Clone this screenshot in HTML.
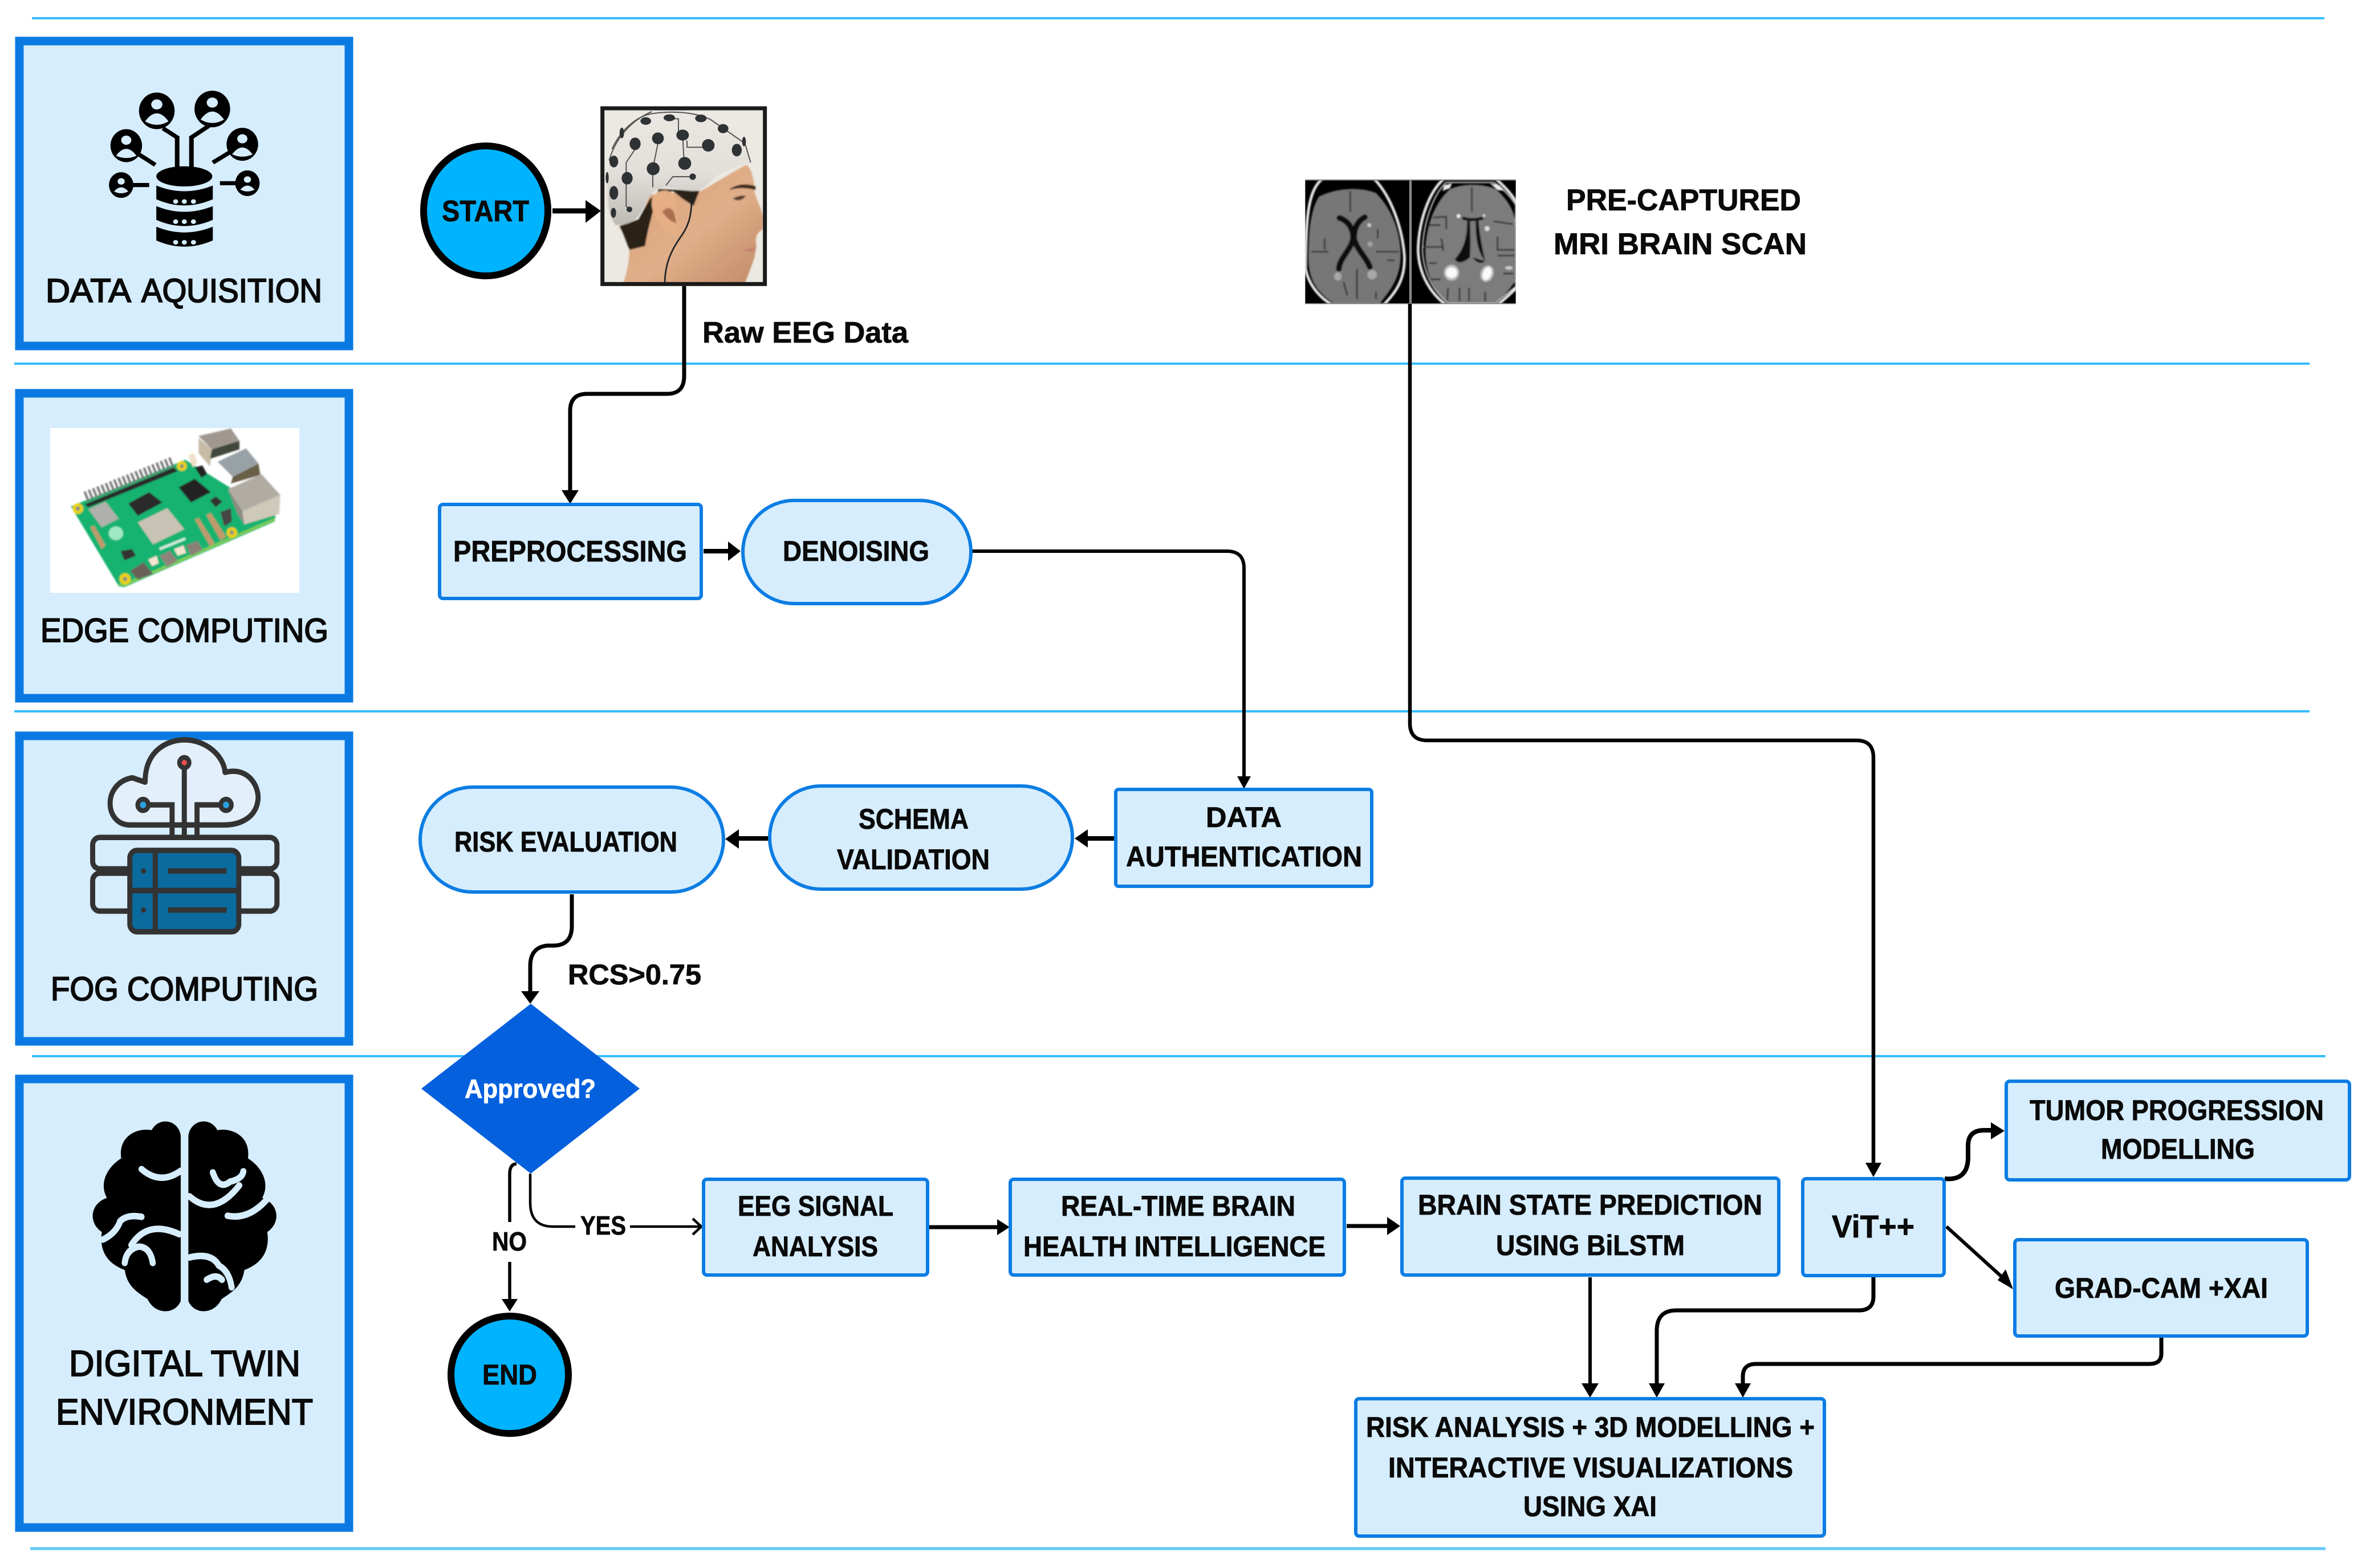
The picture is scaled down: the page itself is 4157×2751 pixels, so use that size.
<!DOCTYPE html>
<html><head><meta charset="utf-8"><style>
html,body{margin:0;padding:0;background:#fff;width:4157px;height:2751px;overflow:hidden}
svg{display:block}
text{font-family:"Liberation Sans",sans-serif;font-weight:700;fill:#0a0a0a;stroke:#0a0a0a;stroke-width:.8}
.lab{font-weight:400;stroke:#0a0a0a;stroke-width:2}
.box{fill:#d6edfd;stroke:#0c7de3;stroke-width:6}
.sec{fill:#d6edfd;stroke:#0a7ae2;stroke-width:15}
.ln{stroke:#35bdfb;stroke-width:4;fill:none}
.c{fill:none;stroke:#000;stroke-linejoin:round}
</style></head><body>
<svg xmlns="http://www.w3.org/2000/svg" width="4157" height="2751" viewBox="0 0 4157 2751">
<defs>
<filter id="bl" x="-5%" y="-5%" width="110%" height="110%"><feGaussianBlur stdDeviation="4"/></filter>
<linearGradient id="cap" x1="0" y1="0" x2="0" y2="1"><stop offset="0" stop-color="#ebe8e3"/><stop offset=".55" stop-color="#e2dfda"/><stop offset="1" stop-color="#bdb9b3"/></linearGradient>
<linearGradient id="skin" x1="0" y1="0" x2="1" y2="1"><stop offset="0" stop-color="#d9a27a"/><stop offset=".55" stop-color="#e0ae88"/><stop offset="1" stop-color="#c08a66"/></linearGradient>
<clipPath id="mc"><rect x="28" y="30" width="1108" height="654"/></clipPath>
<clipPath id="hc"><rect x="60" y="55" width="835" height="905"/></clipPath>
</defs>
<rect width="4157" height="2751" fill="#fff"/>
<!-- lane lines -->
<path class="ln" d="M56 32H4077M25 638H4051M25 1248H4051M56 1853H4079"/>
<path class="ln" d="M53 2717H4079" style="stroke:#62c8fb;stroke-width:5"/>
<!-- section boxes -->
<rect class="sec" x="34" y="72" width="578" height="535"/>
<rect class="sec" x="34" y="690" width="578" height="535"/>
<rect class="sec" x="34" y="1291" width="578" height="536"/>
<rect class="sec" x="34" y="1893" width="578" height="787"/>
<g font-size="58">
<text class="lab" x="80" y="530" textLength="150" lengthAdjust="spacingAndGlyphs">DATA</text>
<text class="lab" x="248" y="530" textLength="317" lengthAdjust="spacingAndGlyphs">AQUISITION</text>
<text class="lab" x="71" y="1126" textLength="505" lengthAdjust="spacingAndGlyphs">EDGE COMPUTING</text>
<text class="lab" x="89" y="1755" textLength="469" lengthAdjust="spacingAndGlyphs">FOG COMPUTING</text>
</g>
<g font-size="64">
<text class="lab" x="121" y="2414" textLength="406" lengthAdjust="spacingAndGlyphs">DIGITAL TWIN</text>
<text class="lab" x="98" y="2499" textLength="451" lengthAdjust="spacingAndGlyphs">ENVIRONMENT</text>
</g>
<!-- data icon -->
<g transform="scale(.893,.8036)">
<g fill="none" stroke="#000" stroke-width="9">
<path d="M320 280L348 300V365M376 365V300L410 275M270 335L305 360M418 355L455 330M258 404H293M432 400H465"/>
</g>
<g fill="#000">
<ellipse cx="308" cy="242" rx="35" ry="40"/><ellipse cx="417" cy="238" rx="35" ry="40"/>
<ellipse cx="248" cy="318" rx="31" ry="36"/><ellipse cx="476" cy="315" rx="31" ry="36"/>
<ellipse cx="238" cy="404" rx="24" ry="28"/><ellipse cx="486" cy="400" rx="24" ry="28"/>
<ellipse cx="362" cy="385" rx="55" ry="22"/>
<path d="M307 405Q362 430 418 405V435Q362 462 307 435ZM307 450Q362 475 418 450V480Q362 507 307 480ZM307 495Q362 520 418 495V525Q362 552 307 525Z"/>
</g>
<g fill="#d6edfd">
<circle cx="308" cy="228" r="11"/><path d="M285 265Q308 230 331 265Q308 280 285 265Z"/>
<circle cx="417" cy="224" r="11"/><path d="M394 261Q417 226 440 261Q417 276 394 261Z"/>
<circle cx="248" cy="306" r="10"/><path d="M228 340Q248 310 268 340Q248 350 228 340Z"/>
<circle cx="476" cy="303" r="10"/><path d="M456 337Q476 307 496 337Q476 347 456 337Z"/>
<circle cx="238" cy="396" r="7"/><path d="M224 418Q238 400 252 418Q238 426 224 418Z"/>
<circle cx="486" cy="392" r="7"/><path d="M472 414Q486 396 500 414Q486 422 472 414Z"/>
<circle cx="345" cy="440" r="5"/><circle cx="362" cy="440" r="5"/><circle cx="380" cy="440" r="5"/>
<circle cx="345" cy="484" r="5"/><circle cx="362" cy="484" r="5"/><circle cx="380" cy="484" r="5"/>
<circle cx="345" cy="529" r="5"/><circle cx="362" cy="529" r="5"/><circle cx="380" cy="529" r="5"/>
</g>
</g>
<!-- raspberry pi -->
<rect x="88" y="751" width="437" height="289" fill="#fff"/>
<g transform="translate(85,745) scale(.33333)"><g filter="url(#bl)">
<path d="M118 430L720 185L1195 480L1190 510L400 855L370 850Z" fill="#15b26f"/>
<path d="M360 840L400 850L1190 505L1192 490L400 835Z" fill="#7fcf55"/>
<path d="M195 380L655 195" stroke="#777" stroke-width="55" stroke-dasharray="12 12" fill="none"/>
<path d="M190 420L660 225L680 245L210 435Z" fill="#2a2a2a"/>
<path d="M420 415L530 355L600 410L470 480Z" fill="#2b2b2b"/>
<path d="M685 330L770 285L855 355L750 410Z" fill="#232323"/>
<path d="M850 400L880 378L915 405L880 435Z" fill="#333"/>
<path d="M210 445L300 405L370 495L280 540Z" fill="#b0b0ac"/>
<path d="M470 515L625 440L715 550L550 630Z" fill="#c8c3b4"/>
<path d="M790 60L960 20L1005 85L860 130Z" fill="#a09890"/>
<path d="M790 70L860 130L850 220L790 150Z" fill="#c7bba6"/>
<path d="M860 130L1005 85L1005 130L850 180Z" fill="#41463a"/>
<path d="M890 195L1040 125L1105 205L970 275Z" fill="#98a2a6"/>
<path d="M970 275L1105 205L1115 265L960 310Z" fill="#6a5e46"/>
<path d="M945 340L1120 260L1220 370L1020 455Z" fill="#b0aca4"/>
<path d="M945 340L1020 455L1030 525L995 470Z" fill="#8f8b82"/>
<path d="M1020 455L1220 370L1215 470L1030 525Z" fill="#cfc9ba"/>
<path d="M770 500L790 490L875 625L850 640ZM830 475L855 465L935 590L905 610ZM220 540L240 530L300 635L280 655Z" fill="#c09a6c"/>
<path d="M905 460L960 440L965 510L925 535Z" fill="#444"/>
<path d="M735 160L765 150L785 200L760 225Z" fill="#f0e0c8"/>
<path d="M770 225L810 215L835 260L805 280Z" fill="#222"/>
<g fill="#e8d018"><circle cx="155" cy="442" r="28"/><circle cx="702" cy="218" r="26"/><circle cx="965" cy="568" r="28"/><circle cx="403" cy="812" r="30"/></g>
<g fill="#8a8a80"><circle cx="155" cy="442" r="11"/><circle cx="702" cy="218" r="10"/><circle cx="965" cy="568" r="11"/><circle cx="403" cy="812" r="11"/></g>
<path d="M430 770L500 725L550 785L470 815Z" fill="#6a6258"/>
<path d="M585 690L640 665L680 715L625 750Z" fill="#8c847a"/>
<path d="M725 635L785 612L810 660L750 690Z" fill="#8a8078"/>
<path d="M525 710L570 690L580 730L545 745ZM660 655L710 635L725 675L680 690Z" fill="#f4e4d0"/>
<path d="M380 665L440 655L460 690L400 715Z" fill="#333"/>
<ellipse cx="355" cy="572" rx="38" ry="36" fill="#9fe8c4"/>
<path d="M585 655L720 600" stroke="#cfeee0" stroke-width="14" fill="none"/>
</g></g>
<!-- fog icon -->
<g transform="translate(0,1260) scale(.893,.951)">
<path d="M285 197H255C205 197 200 120 260 110L285 118C285 55 335 40 362 40C405 40 440 70 442 100C490 88 512 130 506 155C500 185 470 197 440 197H390Z" fill="#e3f0fb" stroke="#333" stroke-width="10" stroke-linejoin="round"/>
<g fill="none" stroke="#333" stroke-width="10">
<rect x="182" y="220" width="362" height="58" rx="14"/><rect x="182" y="286" width="362" height="70" rx="14"/>
<path d="M362 95V218M295 160H338V218M430 160H387V218"/>
</g>
<rect x="255" y="244" width="214" height="150" rx="14" fill="#0b6a9e" stroke="#333" stroke-width="10"/>
<path d="M255 318H469M305 244V394M330 282H445M330 354H445" stroke="#333" stroke-width="10" fill="none"/>
<circle cx="282" cy="282" r="5" fill="#333"/><circle cx="282" cy="354" r="5" fill="#333"/>
<circle cx="362" cy="82" r="14" fill="#333"/><circle cx="362" cy="82" r="5" fill="#f05050"/>
<circle cx="281" cy="160" r="15" fill="#333"/><circle cx="281" cy="160" r="6" fill="#2aa0e0"/>
<circle cx="444" cy="160" r="15" fill="#333"/><circle cx="444" cy="160" r="6" fill="#2aa0e0"/>
</g>
<!-- brain icon -->
<g transform="translate(0,1260) scale(.893,.951)">
<path d="M355 770C350 740 312 735 298 760C268 755 232 772 238 812C208 830 195 860 210 885C178 895 172 930 200 948C195 980 208 1005 245 1018C250 1050 272 1060 290 1072C305 1102 345 1100 355 1075Z" fill="#000"/>
<path d="M370 770C375 740 413 735 427 760C457 755 493 772 487 812C517 830 530 860 515 885C547 895 553 930 525 948C530 980 517 1005 480 1018C475 1050 453 1060 435 1072C420 1102 380 1100 370 1075Z" fill="#000"/>
<g fill="none" stroke="#d6edfd" stroke-width="12" stroke-linecap="round">
<path d="M278 832Q315 862 355 835M202 962Q228 950 236 928Q250 915 278 920M245 1005Q248 980 272 975Q295 975 300 1005M258 972Q290 925 352 952"/>
<path d="M372 882Q420 922 470 862M418 838Q430 872 452 855Q476 850 478 836M447 918Q490 926 527 885M372 995Q415 985 430 1010Q450 1020 455 1050M406 1036Q425 1024 436 1036"/>
</g>
</g>
<!-- EEG head -->
<g transform="translate(1040,175) scale(.33333)">
<rect x="40" y="35" width="875" height="945" fill="#ece8e2"/>
<g clip-path="url(#hc)"><g filter="url(#bl)">
<path d="M160 965C190 880 195 800 190 770L300 500L570 480L800 345C830 340 850 420 850 480C850 510 900 590 898 640L895 680C870 700 850 710 860 770L850 830L825 900L800 965Z" fill="url(#skin)"/>
<path d="M140 665C170 720 180 770 195 790L275 770C285 700 300 650 320 570L345 470L560 480L530 560L470 520L420 480L300 520L240 630Z" fill="#2c2018"/>
<path d="M120 660C70 600 65 450 90 320C120 180 220 90 310 60C400 45 520 50 600 85C720 130 800 210 830 335C780 340 700 370 640 410C600 450 570 480 530 480C470 480 420 460 370 460C320 470 290 510 270 560C240 630 200 660 120 660Z" fill="url(#cap)"/>
<path d="M310 530C320 470 410 460 430 510C450 570 440 640 450 700C430 730 380 700 350 650C320 610 305 570 310 530Z" fill="#e6ae84"/>
<path d="M365 590Q400 550 425 590L440 650Q400 640 365 590Z" fill="#a87050"/>
<path d="M720 470Q780 430 855 455L855 475Q780 455 720 475Z" fill="#3a2a1e"/>
<path d="M735 520Q770 500 805 505Q775 545 735 520Z" fill="#5a4030"/>
<path d="M785 790Q820 780 860 775L850 800Q820 805 785 790Z" fill="#c48470"/>
</g>
<g fill="none" stroke="#555" stroke-width="6">
<path d="M402 100H450V186M472 186L480 335M495 215V250H580M342 230L315 363V460M222 260L175 330V560L192 577M525 405H420L385 450"/>
<path d="M100 260C150 150 240 80 320 72C400 60 530 60 620 105L700 160M85 320C120 200 200 110 310 62M620 105L800 230L830 330"/>
</g>
<g fill="#2e3234">
<ellipse cx="278" cy="112" rx="28" ry="20"/><ellipse cx="402" cy="95" rx="30" ry="18"/><ellipse cx="568" cy="98" rx="30" ry="20"/><ellipse cx="685" cy="152" rx="28" ry="24"/>
<ellipse cx="152" cy="175" rx="12" ry="28"/><ellipse cx="222" cy="232" rx="29" ry="33"/><circle cx="342" cy="203" r="31"/><ellipse cx="472" cy="186" rx="33" ry="29"/><circle cx="607" cy="240" r="33"/><ellipse cx="757" cy="265" rx="26" ry="33"/>
<ellipse cx="110" cy="325" rx="23" ry="31"/><circle cx="317" cy="363" r="34"/><circle cx="483" cy="335" r="34"/><ellipse cx="180" cy="413" rx="29" ry="33"/><ellipse cx="110" cy="490" rx="23" ry="36"/><circle cx="525" cy="405" r="17"/><circle cx="192" cy="577" r="15"/><ellipse cx="108" cy="595" rx="14" ry="26"/><ellipse cx="75" cy="410" rx="8" ry="30"/><ellipse cx="795" cy="220" rx="10" ry="25"/>
</g>
<path d="M520 490C520 600 510 650 470 710C420 780 380 850 378 965" fill="none" stroke="#1c2226" stroke-width="8"/>
</g>
<rect x="50" y="45" width="855" height="925" fill="none" stroke="#1a1a1a" stroke-width="21"/>
</g>
<!-- MRI -->
<g transform="translate(2280,305) scale(.33333)">
<rect x="28" y="30" width="1108" height="654" fill="#000"/>
<g clip-path="url(#mc)"><g filter="url(#bl)">
<path d="M120 25C50 80 30 200 30 500C50 600 120 660 170 690L440 690C510 620 555 550 550 430C540 300 490 130 390 25" fill="none" stroke="#eee" stroke-width="14"/>
<path d="M100 120C200 70 320 70 400 100C480 180 530 300 530 430C530 560 460 630 420 684L180 684C100 630 50 570 45 460C45 330 50 200 100 120Z" fill="#777"/>
<path d="M208 232C260 250 280 290 280 340C270 400 210 440 205 500M342 228C300 250 285 290 285 340C300 400 350 440 368 490" fill="none" stroke="#0c0c0c" stroke-width="30" stroke-linecap="round"/>
<path d="M265 90V200M60 410H150M400 410H520M300 500V660M130 340V400M410 290V340M460 455H500M230 570L250 640M400 620V660" stroke="#2e2e2e" stroke-width="8" fill="none"/>
<ellipse cx="200" cy="540" rx="20" ry="22" fill="#a8a8a8"/><ellipse cx="380" cy="530" rx="25" ry="25" fill="#a8a8a8"/><circle cx="365" cy="270" r="10" fill="#ccc"/><circle cx="370" cy="370" r="14" fill="#a0a0a0"/>
<path d="M760 25C680 90 625 250 622 400C625 540 700 640 770 690L1040 690C1100 640 1140 600 1140 600V150C1110 100 1070 60 1030 25" fill="none" stroke="#eee" stroke-width="14"/>
<path d="M770 45C700 110 650 260 645 400C650 530 710 625 780 680L1030 680C1090 630 1140 590 1140 590V170C1110 120 1060 70 1020 45Z" fill="none" stroke="#ddd" stroke-width="6"/>
<path d="M790 80C860 50 960 50 1030 80C1090 130 1136 200 1136 280V560C1100 620 1060 650 1030 675H780C710 620 660 530 660 400C665 270 710 150 790 80Z" fill="#7c7c7c"/>
<path d="M760 60L800 50L790 75L750 90ZM1000 50L1050 60L1080 90L1040 85Z" fill="#eee"/>
<path d="M855 232Q905 250 965 232" fill="none" stroke="#111" stroke-width="16"/>
<path d="M815 450C860 400 880 340 880 250L895 245C897 320 900 380 895 440C860 470 830 475 815 450ZM975 460C935 410 925 340 925 250L940 245C945 320 960 390 975 460C950 480 920 460 910 440Z" fill="#0a0a0a"/>
<ellipse cx="798" cy="520" rx="40" ry="42" fill="#bdbdbd"/><ellipse cx="798" cy="520" rx="30" ry="28" fill="#fafafa"/>
<ellipse cx="985" cy="525" rx="34" ry="44" fill="#bdbdbd" transform="rotate(20 985 525)"/><ellipse cx="985" cy="525" rx="22" ry="36" fill="#fafafa" transform="rotate(20 985 525)"/>
<circle cx="985" cy="288" r="13" fill="#ddd"/><circle cx="835" cy="222" r="10" fill="#eee"/><circle cx="968" cy="220" r="8" fill="#ccc"/>
<ellipse cx="1100" cy="495" rx="20" ry="9" fill="#ccc"/>
<path d="M905 70V200M680 270H740M700 230L770 225V290M1020 250L1120 265M1040 330V400H1130M1040 430H1130M650 385H750M680 470H720M690 555H740M1070 525H1125M780 600L775 670M840 600V670M890 600V670M975 620V670M745 340L755 405" stroke="#2a2a2a" stroke-width="8" fill="none"/>
</g></g>
<path d="M582 30V684" stroke="#888" stroke-width="13"/>
<path d="M28 33H1136M28 683H1136" stroke="#777" stroke-width="5"/>
</g>
<g font-size="53">
<text x="2747" y="369" textLength="412" lengthAdjust="spacingAndGlyphs">PRE-CAPTURED</text>
<text x="2725" y="446" textLength="444" lengthAdjust="spacingAndGlyphs">MRI BRAIN SCAN</text>
</g>
<text font-size="52" x="1232" y="601" textLength="361" lengthAdjust="spacingAndGlyphs">Raw EEG Data</text>
<text font-size="50" x="996" y="1727" textLength="234" lengthAdjust="spacingAndGlyphs">RCS&gt;0.75</text>
<!-- connectors -->
<path class="c" stroke-width="9" d="M969 370H1030"/>
<polygon points="1054,370 1027,351 1027,391"/>
<path class="c" stroke-width="7" d="M1200 502V660Q1200 691 1170 691H1030Q1000 691 1000 721V862"/>
<polygon points="1000,884 985,860 1015,860"/>
<path class="c" stroke-width="8" d="M1234 967H1280"/>
<polygon points="1299,967 1277,950 1277,984"/>
<path class="c" stroke-width="6" d="M1702 967H2152Q2182 967 2182 997V1365"/>
<polygon points="2182,1384 2170,1362 2194,1362"/>
<path class="c" stroke-width="8" d="M1956 1471H1905"/>
<polygon points="1885,1471 1908,1455 1908,1487"/>
<path class="c" stroke-width="8" d="M1348 1471H1292"/>
<polygon points="1272,1472 1296,1455 1296,1489"/>
<path class="c" stroke-width="7" d="M1003 1569V1625Q1003 1659 970 1659H960Q930 1662 930 1695V1742"/>
<polygon points="930,1761 914,1739 946,1739"/>
<path class="c" stroke-width="5.5" d="M906 2042Q894 2042 894 2060V2144M894 2214V2282"/>
<polygon points="894,2301 880,2279 908,2279"/>
<path class="c" stroke-width="4.5" d="M930 2059V2110Q930 2152 970 2152H1009M1105 2152H1228"/>
<path class="c" stroke-width="4.5" d="M1215 2138L1230 2152L1215 2166"/>
<path class="c" stroke-width="7" d="M1630 2153H1750"/>
<polygon points="1771,2153 1749,2139 1749,2167"/>
<path class="c" stroke-width="7" d="M2362 2151H2436"/>
<polygon points="2456,2151 2433,2135 2433,2167"/>
<path class="c" stroke-width="6.5" d="M2473 533V1269Q2473 1299 2503 1299H3256Q3286 1299 3286 1329V2045"/>
<polygon points="3286,2065 3272,2040 3300,2040"/>
<path class="c" stroke-width="8" d="M3411 2068Q3452 2072 3452 2030V2010Q3452 1983 3480 1983H3495"/>
<polygon points="3516,1984 3492,1969 3492,1999"/>
<path class="c" stroke-width="6" d="M3414 2152L3522 2250"/>
<polygon points="3531,2262 3504,2246 3518,2227"/>
<path class="c" stroke-width="6" d="M2789 2241V2430"/>
<polygon points="2789,2452 2774,2427 2804,2427"/>
<path class="c" stroke-width="7" d="M3286 2240V2275Q3286 2299 3260 2299H2940Q2906 2299 2906 2335V2430"/>
<polygon points="2906,2452 2892,2427 2920,2427"/>
<path class="c" stroke-width="7" d="M3791 2346V2375Q3791 2393 3770 2393H3080Q3057 2393 3057 2415V2430"/>
<polygon points="3057,2452 3043,2427 3071,2427"/>
<!-- nodes -->
<ellipse cx="852" cy="370" rx="109" ry="114" fill="#00b3ff" stroke="#000" stroke-width="12"/>
<text font-size="52" x="775" y="388" textLength="153" lengthAdjust="spacingAndGlyphs">START</text>
<rect class="box" x="771" y="885" width="459" height="165" rx="6"/>
<text font-size="52" x="795" y="985" textLength="410" lengthAdjust="spacingAndGlyphs">PREPROCESSING</text>
<rect class="box" x="1303" y="878" width="400" height="181" rx="90"/>
<text font-size="50" x="1373" y="984" textLength="257" lengthAdjust="spacingAndGlyphs">DENOISING</text>
<rect class="box" x="1957" y="1385" width="449" height="170" rx="5"/>
<text font-size="50" x="2115" y="1451" textLength="133" lengthAdjust="spacingAndGlyphs">DATA</text>
<text font-size="50" x="1975" y="1520" textLength="414" lengthAdjust="spacingAndGlyphs">AUTHENTICATION</text>
<rect class="box" x="1350" y="1379" width="531" height="181" rx="90"/>
<text font-size="50" x="1506" y="1454" textLength="193" lengthAdjust="spacingAndGlyphs">SCHEMA</text>
<text font-size="50" x="1468" y="1525" textLength="268" lengthAdjust="spacingAndGlyphs">VALIDATION</text>
<rect class="box" x="737" y="1381" width="532" height="184" rx="92"/>
<text font-size="50" x="797" y="1494" textLength="391" lengthAdjust="spacingAndGlyphs">RISK EVALUATION</text>
<polygon points="931,1761 1122,1910 931,2059 739,1910" fill="#0560de"/>
<text font-size="46" style="fill:#fff;stroke:#fff" x="815" y="1926" textLength="230" lengthAdjust="spacingAndGlyphs">Approved?</text>
<text font-size="46" x="863" y="2194" textLength="61" lengthAdjust="spacingAndGlyphs">NO</text>
<text font-size="46" x="1018" y="2166" textLength="80" lengthAdjust="spacingAndGlyphs">YES</text>
<circle cx="894" cy="2412" r="103" fill="#00b3ff" stroke="#000" stroke-width="12"/>
<text font-size="50" x="846" y="2429" textLength="96" lengthAdjust="spacingAndGlyphs">END</text>
<rect class="box" x="1234" y="2069" width="393" height="168" rx="6"/>
<text font-size="50" x="1294" y="2133" textLength="273" lengthAdjust="spacingAndGlyphs">EEG SIGNAL</text>
<text font-size="50" x="1320" y="2204" textLength="220" lengthAdjust="spacingAndGlyphs">ANALYSIS</text>
<rect class="box" x="1772" y="2069" width="586" height="168" rx="6"/>
<text font-size="50" x="1861" y="2133" textLength="411" lengthAdjust="spacingAndGlyphs">REAL-TIME BRAIN</text>
<text font-size="50" x="1795" y="2204" textLength="530" lengthAdjust="spacingAndGlyphs">HEALTH INTELLIGENCE</text>
<rect class="box" x="2459" y="2067" width="661" height="170" rx="6"/>
<text font-size="50" x="2487" y="2131" textLength="604" lengthAdjust="spacingAndGlyphs">BRAIN STATE PREDICTION</text>
<text font-size="50" x="2624" y="2202" textLength="331" lengthAdjust="spacingAndGlyphs">USING BiLSTM</text>
<rect class="box" x="3162" y="2068" width="248" height="170" rx="6"/>
<text font-size="56" x="3213" y="2171" textLength="145" lengthAdjust="spacingAndGlyphs">ViT++</text>
<rect class="box" x="3519" y="1897" width="602" height="173" rx="6"/>
<text font-size="50" x="3560" y="1965" textLength="516" lengthAdjust="spacingAndGlyphs">TUMOR PROGRESSION</text>
<text font-size="50" x="3685" y="2033" textLength="270" lengthAdjust="spacingAndGlyphs">MODELLING</text>
<rect class="box" x="3534" y="2175" width="513" height="169" rx="6"/>
<text font-size="50" x="3604" y="2277" textLength="374" lengthAdjust="spacingAndGlyphs">GRAD-CAM +XAI</text>
<rect class="box" x="2378" y="2454" width="822" height="241" rx="6"/>
<text font-size="50" x="2396" y="2521" textLength="787" lengthAdjust="spacingAndGlyphs">RISK ANALYSIS + 3D MODELLING +</text>
<text font-size="50" x="2435" y="2592" textLength="710" lengthAdjust="spacingAndGlyphs">INTERACTIVE VISUALIZATIONS</text>
<text font-size="50" x="2672" y="2660" textLength="234" lengthAdjust="spacingAndGlyphs">USING XAI</text>
</svg>
</body></html>
